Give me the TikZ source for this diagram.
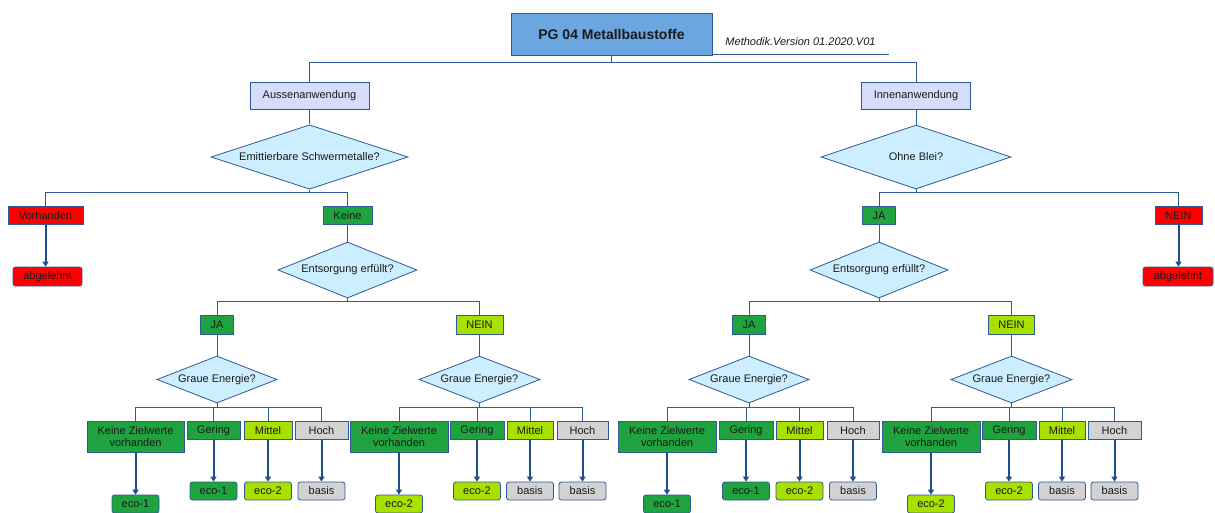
\documentclass[tikz,border=0pt]{standalone}
\usepackage{fontspec}
\setmainfont{Liberation Sans}
\usetikzlibrary{shapes.geometric,arrows.meta}
\definecolor{lnk}{HTML}{2F5A96}
\definecolor{arr}{HTML}{1F4E8C}
\definecolor{titleblue}{HTML}{6CA6E0}
\definecolor{lav}{HTML}{D4DEFA}
\definecolor{dia}{HTML}{CCEEFF}
\definecolor{grn}{HTML}{1FA33F}
\definecolor{lgrn}{HTML}{A8E000}
\definecolor{gry}{HTML}{D2D2D2}
\definecolor{rd}{HTML}{FF0000}
\definecolor{txt}{HTML}{1A1A1A}
\tikzset{
 base/.style={draw=lnk, line width=0.8pt, inner sep=0pt, text=txt, font=\fontsize{11}{12.5}\selectfont, align=center},
 box/.style={base, rectangle, minimum height=18.5pt},
 dec/.style={base, diamond, fill=dia, aspect=2.5},
 res/.style={base, rectangle, rounded corners=2.5pt, minimum width=47pt, minimum height=18pt},
 conn/.style={draw=lnk, line width=0.8pt},
 arrw/.style={draw=arr, line width=2pt, -{Triangle[width=6pt,length=5pt]}},
}
\begin{document}
\begin{tikzpicture}[x=1pt,y=-1pt]
\useasboundingbox (0,0) rectangle (1215,512);
\clip (0,0) rectangle (1215,512);
\fill[white] (0,0) rectangle (1215,512);

% title
\node[base, fill=titleblue, minimum width=201pt, minimum height=42pt, font=\fontsize{14}{16}\selectfont\bfseries] (title) at (611.5,34) {PG 04 Metallbaustoffe};
\node[inner sep=0pt, font=\fontsize{11}{13}\selectfont\itshape, text=txt] (meth) at (800.5,41.5) {Methodik.Version 01.2020.V01};
\coordinate (ml) at (713,54);
\coordinate (mr) at (889,54);
\draw[conn] (ml) -- (mr);

% level 1
\node[box, fill=lav, minimum width=119pt, minimum height=27pt] (aussen) at (309.5,95.5) {Aussenanwendung};
\node[box, fill=lav, minimum width=109pt, minimum height=27pt] (innen) at (916,95.5) {Innenanwendung};
\node[dec, minimum width=197pt, minimum height=64pt] (emit) at (309.5,157) {Emittierbare Schwermetalle?};
\node[dec, minimum width=190pt, minimum height=64pt] (ohne) at (916,157) {Ohne Blei?};

\coordinate (b0) at (0,62);
\coordinate (b1) at (0,192.5);
\coordinate (b2) at (0,301.5);
\coordinate (b3) at (0,407);

\draw[conn] (title.south) -- (title.south |- b0);
\draw[conn] (aussen.north) |- (b0 -| innen.north) -- (innen.north);
\draw[conn] (aussen.south) -- (aussen.south |- emit.north);
\draw[conn] (innen.south) -- (innen.south |- ohne.north);

% level 2
\node[box, fill=rd, minimum width=75pt] (vorh) at (45.5,215.5) {Vorhanden};
\node[box, fill=grn, minimum width=49pt] (keineL) at (347.5,215.5) {Keine};
\node[res, fill=rd, minimum width=69pt, minimum height=19pt] (ablL) at (47.5,276.5) {abgelehnt};
\node[box, fill=grn, minimum width=33pt] (jaR) at (879,215.5) {JA};
\node[box, fill=rd, minimum width=47pt] (neinR) at (1178.5,215.5) {NEIN};
\node[res, fill=rd, minimum width=70pt, minimum height=19pt] (ablR) at (1178,276.5) {abgelehnt};

\draw[conn] (emit.south) -- (emit.south |- b1);
\draw[conn] (vorh.north) |- (b1 -| keineL.north) -- (keineL.north);
\draw[conn] (ohne.south) -- (ohne.south |- b1);
\draw[conn] (jaR.north) |- (b1 -| neinR.north) -- (neinR.north);
\draw[arrw] (vorh.south) -- (vorh.south |- ablL.north);
\draw[arrw] (neinR.south) -- (neinR.south |- ablR.north);

% level 3
\node[dec, minimum width=139pt, minimum height=56pt] (entL) at (347.5,270) {Entsorgung erfüllt?};
\node[dec, minimum width=138pt, minimum height=56pt] (entR) at (879,270) {Entsorgung erfüllt?};
\draw[conn] (keineL.south) -- (keineL.south |- entL.north);
\draw[conn] (jaR.south) -- (jaR.south |- entR.north);

\node[box, fill=grn, minimum width=33pt] (ja1) at (217,325) {JA};
\node[box, fill=lgrn, minimum width=47pt] (nein2) at (479.5,325) {NEIN};
\node[box, fill=grn, minimum width=33pt] (ja3) at (749,325) {JA};
\node[box, fill=lgrn, minimum width=46pt] (nein4) at (1011.5,325) {NEIN};

\draw[conn] (entL.south) -- (entL.south |- b2);
\draw[conn] (ja1.north) |- (b2 -| nein2.north) -- (nein2.north);
\draw[conn] (entR.south) -- (entR.south |- b2);
\draw[conn] (ja3.north) |- (b2 -| nein4.north) -- (nein4.north);

% grey energy diamonds
\node[dec, minimum width=120pt, minimum height=47pt] (g1) at (217,379.5) {Graue Energie?};
\node[dec, minimum width=121pt, minimum height=47pt] (g2) at (479.5,379.5) {Graue Energie?};
\node[dec, minimum width=120pt, minimum height=47pt] (g3) at (749,379.5) {Graue Energie?};
\node[dec, minimum width=121pt, minimum height=47pt] (g4) at (1011.5,379.5) {Graue Energie?};
\draw[conn] (ja1.south) -- (ja1.south |- g1.north);
\draw[conn] (nein2.south) -- (nein2.south |- g2.north);
\draw[conn] (ja3.south) -- (ja3.south |- g3.north);
\draw[conn] (nein4.south) -- (nein4.south |- g4.north);

% group 1
\node[box, fill=grn, minimum width=97pt, minimum height=31pt] (k1) at (135.5,436.5) {Keine Zielwerte\\vorhanden};
\node[box, fill=grn, minimum width=53pt] (ge1) at (213.5,430.5) {Gering};
\node[box, fill=lgrn, minimum width=48pt] (mi1) at (268,430.5) {Mittel};
\node[box, fill=gry, minimum width=53pt] (ho1) at (321.5,430.5) {Hoch};
% group 2
\node[box, fill=grn, minimum width=98pt, minimum height=31pt] (k2) at (399,436.5) {Keine Zielwerte\\vorhanden};
\node[box, fill=grn, minimum width=54pt] (ge2) at (477,430.5) {Gering};
\node[box, fill=lgrn, minimum width=46pt] (mi2) at (530,430.5) {Mittel};
\node[box, fill=gry, minimum width=51pt] (ho2) at (582.5,430.5) {Hoch};
% group 3
\node[box, fill=grn, minimum width=98pt, minimum height=31pt] (k3) at (667,436.5) {Keine Zielwerte\\vorhanden};
\node[box, fill=grn, minimum width=54pt] (ge3) at (746,430.5) {Gering};
\node[box, fill=lgrn, minimum width=47pt] (mi3) at (799.5,430.5) {Mittel};
\node[box, fill=gry, minimum width=52pt] (ho3) at (853,430.5) {Hoch};
% group 4
\node[box, fill=grn, minimum width=98pt, minimum height=31pt] (k4) at (931,436.5) {Keine Zielwerte\\vorhanden};
\node[box, fill=grn, minimum width=54pt] (ge4) at (1009,430.5) {Gering};
\node[box, fill=lgrn, minimum width=46pt] (mi4) at (1062,430.5) {Mittel};
\node[box, fill=gry, minimum width=53pt] (ho4) at (1114.5,430.5) {Hoch};

\foreach \g in {1,2,3,4}{
  \draw[conn] (g\g.south) -- (g\g.south |- b3);
  \draw[conn] (k\g.north) |- (b3 -| ho\g.north) -- (ho\g.north);
  \draw[conn] (ge\g.north) -- (ge\g.north |- b3);
  \draw[conn] (mi\g.north) -- (mi\g.north |- b3);
}

% results
\node[res, fill=grn] (r1a) at (135.5,504) {eco-1};
\node[res, fill=grn] (r1b) at (213.5,491) {eco-1};
\node[res, fill=lgrn] (r1c) at (268,491) {eco-2};
\node[res, fill=gry] (r1d) at (321.5,491) {basis};
\node[res, fill=lgrn] (r2a) at (399,504) {eco-2};
\node[res, fill=lgrn] (r2b) at (477,491) {eco-2};
\node[res, fill=gry] (r2c) at (530,491) {basis};
\node[res, fill=gry] (r2d) at (582.5,491) {basis};
\node[res, fill=grn] (r3a) at (667,504) {eco-1};
\node[res, fill=grn] (r3b) at (746,491) {eco-1};
\node[res, fill=lgrn] (r3c) at (799.5,491) {eco-2};
\node[res, fill=gry] (r3d) at (853,491) {basis};
\node[res, fill=lgrn] (r4a) at (931,504) {eco-2};
\node[res, fill=lgrn] (r4b) at (1009,491) {eco-2};
\node[res, fill=gry] (r4c) at (1062,491) {basis};
\node[res, fill=gry] (r4d) at (1114.5,491) {basis};

\foreach \g in {1,2,3,4}{
  \draw[arrw] (k\g.south) -- (r\g a.north);
  \draw[arrw] (ge\g.south) -- (r\g b.north);
  \draw[arrw] (mi\g.south) -- (r\g c.north);
  \draw[arrw] (ho\g.south) -- (r\g d.north);
}
\end{tikzpicture}
\end{document}
